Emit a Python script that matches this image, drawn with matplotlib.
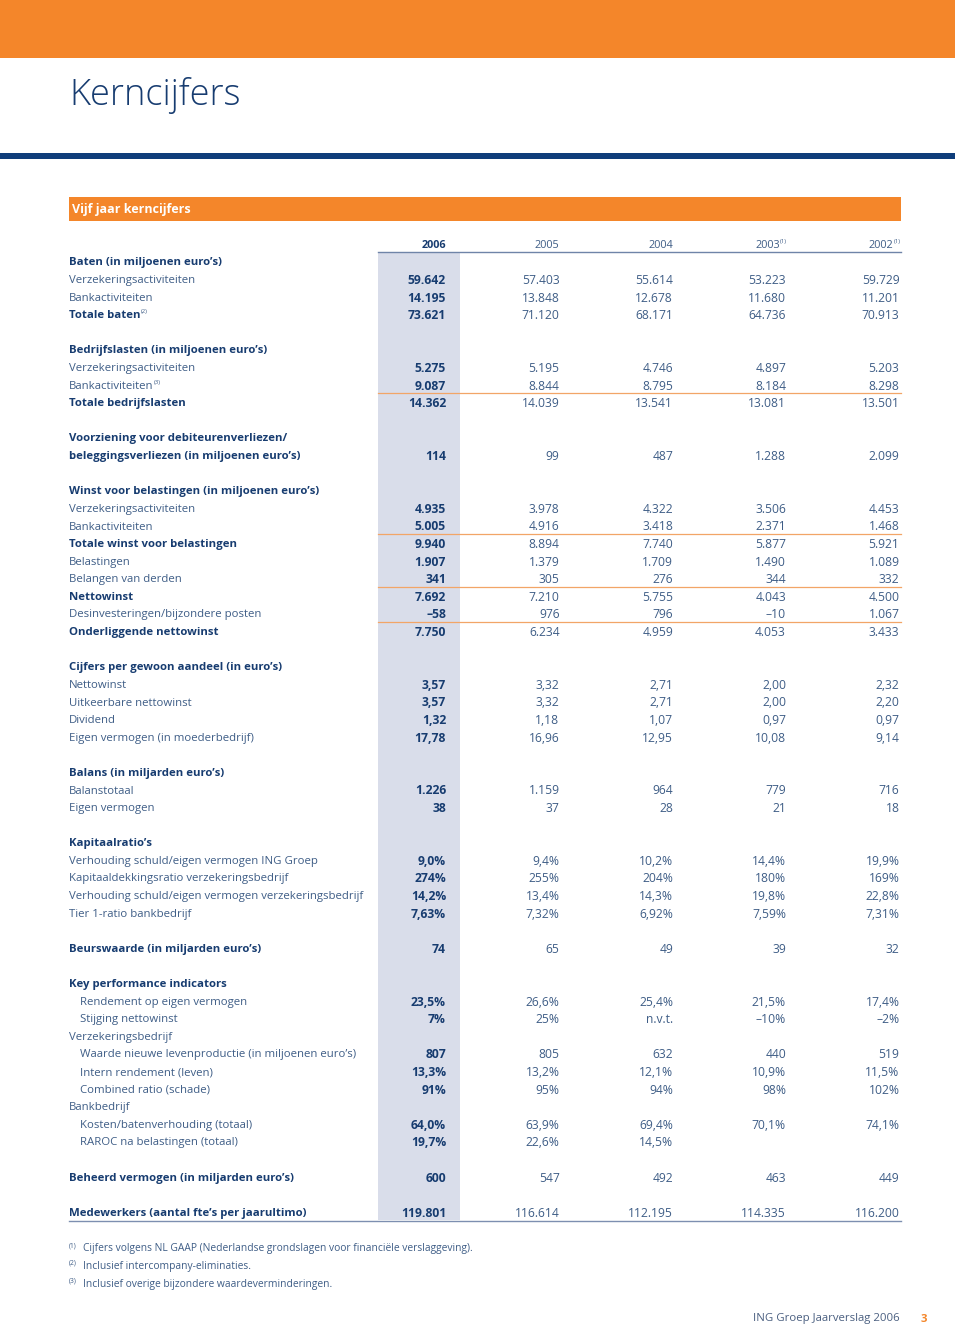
import matplotlib
matplotlib.use("Agg")
import matplotlib.pyplot as plt
from matplotlib.patches import Rectangle

plt.rcParams['font.family'] = ['Open Sans', 'DejaVu Sans']

# ---------------- data ----------------
years = ['2006', '2005', '2004', '2003', '2002']
year_notes = ['', '', '', '(1)', '(1)']

row_labels = [
    "Baten (in miljoenen euro’s)",
    "Verzekeringsactiviteiten",
    "Bankactiviteiten",
    "Totale baten",
    "",
    "Bedrijfslasten (in miljoenen euro’s)",
    "Verzekeringsactiviteiten",
    "Bankactiviteiten",
    "Totale bedrijfslasten",
    "",
    "Voorziening voor debiteurenverliezen/",
    "beleggingsverliezen (in miljoenen euro’s)",
    "",
    "Winst voor belastingen (in miljoenen euro’s)",
    "Verzekeringsactiviteiten",
    "Bankactiviteiten",
    "Totale winst voor belastingen",
    "Belastingen",
    "Belangen van derden",
    "Nettowinst",
    "Desinvesteringen/bijzondere posten",
    "Onderliggende nettowinst",
    "",
    "Cijfers per gewoon aandeel (in euro’s)",
    "Nettowinst",
    "Uitkeerbare nettowinst",
    "Dividend",
    "Eigen vermogen (in moederbedrijf)",
    "",
    "Balans (in miljarden euro’s)",
    "Balanstotaal",
    "Eigen vermogen",
    "",
    "Kapitaalratio’s",
    "Verhouding schuld/eigen vermogen ING Groep",
    "Kapitaaldekkingsratio verzekeringsbedrijf",
    "Verhouding schuld/eigen vermogen verzekeringsbedrijf",
    "Tier 1-ratio bankbedrijf",
    "",
    "Beurswaarde (in miljarden euro’s)",
    "",
    "Key performance indicators",
    "Rendement op eigen vermogen",
    "Stijging nettowinst",
    "Verzekeringsbedrijf",
    "Waarde nieuwe levenproductie (in miljoenen euro’s)",
    "Intern rendement (leven)",
    "Combined ratio (schade)",
    "Bankbedrijf",
    "Kosten/batenverhouding (totaal)",
    "RAROC na belastingen (totaal)",
    "",
    "Beheerd vermogen (in miljarden euro’s)",
    "",
    "Medewerkers (aantal fte’s per jaarultimo)",
]

# row style: h = heading (bold), b = bold total, n = normal, i = indented normal, '' = blank
row_style = [
    'h', 'n', 'n', 'b', '',
    'h', 'n', 'n', 'b', '',
    'h', 'h', '',
    'h', 'n', 'n', 'b', 'n', 'n', 'b', 'n', 'b', '',
    'h', 'n', 'n', 'n', 'n', '',
    'h', 'n', 'n', '',
    'h', 'n', 'n', 'n', 'n', '',
    'h', '',
    'h', 'i', 'i', 'n', 'i', 'i', 'i', 'n', 'i', 'i', '',
    'h', '',
    'h',
]

label_notes = {3: '(2)', 7: '(3)'}
rules_below = [7, 15, 18, 20]

v2006 = ['', '59.642', '14.195', '73.621', '',
         '', '5.275', '9.087', '14.362', '',
         '', '114', '',
         '', '4.935', '5.005', '9.940', '1.907', '341', '7.692', '–58', '7.750', '',
         '', '3,57', '3,57', '1,32', '17,78', '',
         '', '1.226', '38', '',
         '', '9,0%', '274%', '14,2%', '7,63%', '',
         '74', '',
         '', '23,5%', '7%', '', '807', '13,3%', '91%', '', '64,0%', '19,7%', '',
         '600', '',
         '119.801']
v2005 = ['', '57.403', '13.848', '71.120', '',
         '', '5.195', '8.844', '14.039', '',
         '', '99', '',
         '', '3.978', '4.916', '8.894', '1.379', '305', '7.210', '976', '6.234', '',
         '', '3,32', '3,32', '1,18', '16,96', '',
         '', '1.159', '37', '',
         '', '9,4%', '255%', '13,4%', '7,32%', '',
         '65', '',
         '', '26,6%', '25%', '', '805', '13,2%', '95%', '', '63,9%', '22,6%', '',
         '547', '',
         '116.614']
v2004 = ['', '55.614', '12.678', '68.171', '',
         '', '4.746', '8.795', '13.541', '',
         '', '487', '',
         '', '4.322', '3.418', '7.740', '1.709', '276', '5.755', '796', '4.959', '',
         '', '2,71', '2,71', '1,07', '12,95', '',
         '', '964', '28', '',
         '', '10,2%', '204%', '14,3%', '6,92%', '',
         '49', '',
         '', '25,4%', 'n.v.t.', '', '632', '12,1%', '94%', '', '69,4%', '14,5%', '',
         '492', '',
         '112.195']
v2003 = ['', '53.223', '11.680', '64.736', '',
         '', '4.897', '8.184', '13.081', '',
         '', '1.288', '',
         '', '3.506', '2.371', '5.877', '1.490', '344', '4.043', '–10', '4.053', '',
         '', '2,00', '2,00', '0,97', '10,08', '',
         '', '779', '21', '',
         '', '14,4%', '180%', '19,8%', '7,59%', '',
         '39', '',
         '', '21,5%', '–10%', '', '440', '10,9%', '98%', '', '70,1%', '', '',
         '463', '',
         '114.335']
v2002 = ['', '59.729', '11.201', '70.913', '',
         '', '5.203', '8.298', '13.501', '',
         '', '2.099', '',
         '', '4.453', '1.468', '5.921', '1.089', '332', '4.500', '1.067', '3.433', '',
         '', '2,32', '2,20', '0,97', '9,14', '',
         '', '716', '18', '',
         '', '19,9%', '169%', '22,8%', '7,31%', '',
         '32', '',
         '', '17,4%', '–2%', '', '519', '11,5%', '102%', '', '74,1%', '', '',
         '449', '',
         '116.200']
columns = [v2006, v2005, v2004, v2003, v2002]

footnote_marks = ['(1)', '(2)', '(3)']
footnote_texts = [
    "Cijfers volgens NL GAAP (Nederlandse grondslagen voor financiële verslaggeving).",
    "Inclusief intercompany-eliminaties.",
    "Inclusief overige bijzondere waardeverminderingen.",
]

# ---------------- style ----------------
ORANGE = '#F4862A'
NAVY = '#173C70'
BLUE_LINE = '#0F3D7A'
TXT = '#3E5D86'
SHADE = '#D9DDEA'
RULE = '#F2A567'
FS = 8.2
FS_NUM = 8.7

fig = plt.figure(figsize=(9.6, 13.29), dpi=100)
ax = fig.add_axes([0, 0, 1, 1])
ax.set_xlim(0, 960)
ax.set_ylim(1329, 0)
ax.axis('off')

# header bars
ax.add_patch(Rectangle((0, 0), 955, 58, color=ORANGE, lw=0))
ax.text(69, 96, 'Kerncijfers', fontsize=26, color=NAVY, fontweight='light',
        va='center', ha='left')
ax.add_patch(Rectangle((0, 153), 955, 6, color=BLUE_LINE, lw=0))
ax.add_patch(Rectangle((69, 197), 832, 24, color=ORANGE, lw=0))
ax.text(72, 210, 'Vijf jaar kerncijfers', fontsize=9.0, color='white',
        fontweight='bold', va='center', ha='left')

# table geometry
y0, step = 261.0, 17.6
dy = 2.0  # text baseline nudge
col_x = [446, 559.5, 673, 786, 899.5]
lab_x, ind_x = 69, 80
n_rows = len(row_labels)
y_last = y0 + step * (n_rows - 1)

# shaded 2006 column
ax.add_patch(Rectangle((378, 252), 82, y_last + 9 - 252, color=SHADE, lw=0, zorder=0))
# header rule
ax.plot([378, 901], [252, 252], color='#6F84A8', lw=1.0)

# year header
yh = y0 - step + dy
for j, (yr, note) in enumerate(zip(years, year_notes)):
    bold = j == 0
    xr = col_x[j] - (6 if note else 0)
    t = ax.text(xr, yh, yr, fontsize=FS - 0.4, ha='right', va='center',
                color=NAVY if bold else TXT, fontweight='bold' if bold else 'normal')
    if note:
        ax.annotate(note, xy=(1, 0.85), xycoords=t, ha='left', va='center',
                    fontsize=4.3, color=TXT)

for i, (lab, st) in enumerate(zip(row_labels, row_style)):
    y = y0 + step * i + dy
    if st == '':
        continue
    bold = st in ('h', 'b')
    x = ind_x if st == 'i' else lab_x
    t = ax.text(x, y, lab, fontsize=FS, ha='left', va='center',
                color=NAVY if bold else TXT, fontweight='bold' if bold else 'normal')
    if i in label_notes:
        ax.annotate(label_notes[i], xy=(1, 0.85), xycoords=t, xytext=(0.5, 0),
                    textcoords='offset points', ha='left', va='center',
                    fontsize=4.3, color=TXT)
    for j, col in enumerate(columns):
        val = col[i]
        if not val:
            continue
        ax.text(col_x[j], y, val, fontsize=FS_NUM, ha='right', va='center',
                color=NAVY if j == 0 else TXT,
                fontweight='bold' if j == 0 else 'normal')

for r in rules_below:
    yr_ = y0 + step * (r + 0.5)
    ax.plot([378, 901], [yr_, yr_], color=RULE, lw=0.9)

# bottom rule
ax.plot([69, 901], [y_last + 9.5, y_last + 9.5], color='#7D8FB0', lw=1.0)

# footnotes
for k, (m, ft) in enumerate(zip(footnote_marks, footnote_texts)):
    yf = 1249 + 17.5 * k
    ax.text(69, yf - 3, m, fontsize=4.8, color=TXT, ha='left', va='center')
    ax.text(83, yf, ft, fontsize=7.4, color=TXT, ha='left', va='center')

# page footer
ax.text(900, 1319, 'ING Groep Jaarverslag 2006', fontsize=8.2, color='#4A5F80',
        ha='right', va='center')
ax.text(924, 1319, '3', fontsize=8.2, color=ORANGE, ha='center', va='center',
        fontweight='bold')

fig.savefig('out.png', dpi=100)
